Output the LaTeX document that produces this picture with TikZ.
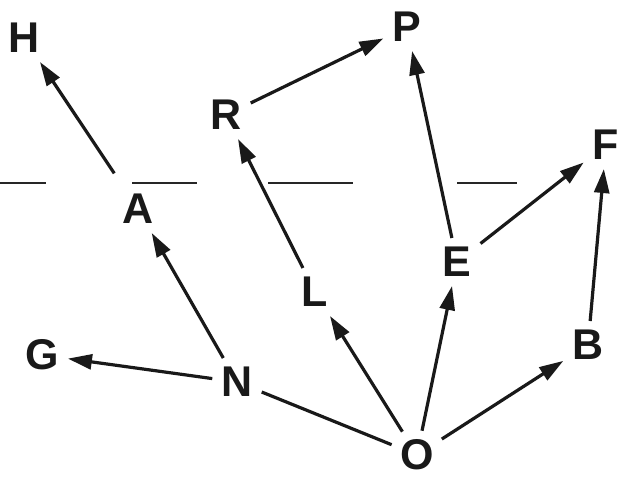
\documentclass[tikz,border=0pt]{standalone}
\usepackage{fontspec}
\setmainfont{Liberation Sans}
\usetikzlibrary{arrows.meta}
\begin{document}
\begin{tikzpicture}[x=1pt,y=-1pt,
  lbl/.style={font=\fontsize{43}{43}\selectfont\bfseries, inner sep=9pt, text=black!90},
  edge/.style={line width=3.2pt, draw=black!90, -{Triangle[length=24pt,width=15pt]}},
  plain/.style={line width=3.2pt, draw=black!90}]
\useasboundingbox (0,0) rectangle (620,482);
\node[lbl] (H) at (24,38) {H};
\node[lbl] (P) at (407,27) {P};
\node[lbl] (R) at (226,115) {R};
\node[lbl] (F) at (606,145) {F};
\node[lbl] (A) at (138,209) {A};
\node[lbl] (E) at (457,262) {E};
\node[lbl] (L) at (315,292) {L};
\node[lbl] (G) at (42,355) {G};
\node[lbl] (N) at (237,382) {N};
\node[lbl] (B) at (588,345) {B};
\node[lbl, inner sep=2pt] (O) at (417,455) {O};
\draw[line width=1.5pt, black!85] (0,183) -- (46,183) (132,183) -- (197,183) (268,183) -- (353,183) (457,183) -- (517,183);
\draw[edge, shorten <=14pt] (A) -- (H);
\draw[edge] (R) -- (P);
\draw[edge] (E) -- (P);
\draw[edge] (E) -- (F);
\draw[edge] (B) -- (F);
\draw[edge] (L) -- (R);
\draw[edge] (N) -- (A);
\draw[edge] (N) -- (G);
\draw[edge, shorten <=7pt] (O) -- (L);
\draw[edge, shorten <=7pt] (O) -- (E);
\draw[edge, shorten <=7pt] (O) -- (B);
\draw[plain, shorten >=7pt] (N) -- (O);
\end{tikzpicture}
\end{document}
